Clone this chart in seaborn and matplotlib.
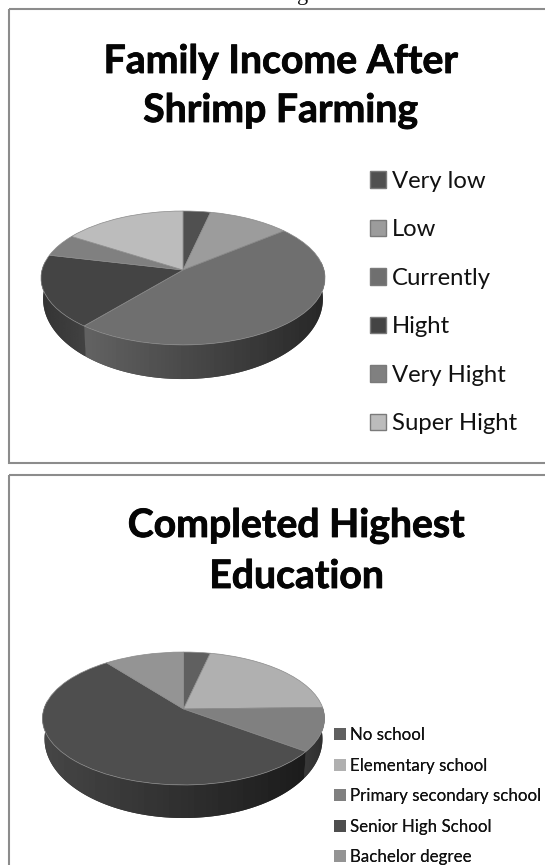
import numpy as np
import seaborn as sns
import matplotlib.pyplot as plt
import matplotlib.patheffects as pe
from matplotlib.patches import Patch, Polygon, Rectangle
from matplotlib.transforms import Transform

income_labels = ["Very low", "Low", "Currently", "Hight", "Very Hight", "Super Hight"]
income_values = [3.5, 10.5, 47.0, 17.7, 5.4, 15.9]
education_labels = ["No school", "Elementary school", "Primary secondary school",
                    "Senior High School", "Bachelor degree"]
education_values = [3.5, 21.1, 10.6, 54.3, 10.5]

income_colors = ["#505050", "#9c9c9c", "#6f6f6f", "#444444", "#808080", "#bcbcbc"]
education_colors = ["#606060", "#b0b0b0", "#808080", "#4e4e4e", "#949494"]
# grey of the pie wall at its left and right end, per slice
income_walls = {2: (98, 40), 3: (52, 66)}
education_walls = {2: (58, 46), 3: (70, 28)}

sns.set_theme(style="white")
plt.rcParams["font.family"] = ["Lato", "DejaVu Sans"]


class Tilt(Transform):
    # unit pie -> pixels, with the far side of the pie shrunk
    input_dims = 2
    output_dims = 2

    def __init__(self, cx, cy, b, a, k):
        super().__init__()
        self.cx, self.cy, self.b, self.a, self.k = cx, cy, b, a, k

    def transform_non_affine(self, values):
        values = np.asarray(values, float)
        w = 1 + self.k * values[:, 1]
        return np.column_stack([self.cx + self.b * values[:, 0] / w,
                                self.cy - self.a * values[:, 1] / w])


def draw_pie(ax, values, colors, walls, cx, cy, b, a, k, low_cy, low_a):
    top = Tilt(cx, cy, b, a, k)
    low = Tilt(cx, low_cy, b * 0.985, low_a, k)
    edges = 90 - 360 * np.concatenate([[0], np.cumsum(values)]) / np.sum(values)
    for i, (left, right) in walls.items():
        t = np.radians(np.linspace(edges[i], edges[i + 1], 300))
        t = t[np.sin(t) < 0.12]
        unit = np.column_stack([np.cos(t), np.sin(t)])
        poly = np.vstack([top.transform_non_affine(unit), low.transform_non_affine(unit)[::-1]])
        grey = (left + right) / 2 / 255
        shape = ax.add_patch(Polygon(poly, fc=(grey, grey, grey), ec="none", zorder=1))
        img = ax.imshow(np.linspace(left, right, 64)[None, :], cmap="gray", vmin=0, vmax=255,
                        aspect="auto", interpolation="bilinear", zorder=1,
                        extent=(poly[:, 0].min(), poly[:, 0].max(), poly[:, 1].max(), poly[:, 1].min()))
        img.set_clip_path(shape)
    wedges, _ = ax.pie(values, colors=sns.color_palette(colors), startangle=90, counterclock=False,
                       frame=True, wedgeprops={"edgecolor": "#8a8a8a", "linewidth": 0.5, "zorder": 2})
    for w in wedges:
        w.set_transform(top + ax.transData)


def draw_legend(ax, labels, colors, x, y, size, spacing, hsize, pad, edge):
    handles = [Patch(facecolor=c, edgecolor=edge or c, linewidth=1.0 if edge else 0, label=l)
               for c, l in zip(colors, labels)]
    leg = ax.legend(handles=handles, loc="upper left", bbox_to_anchor=(x, y), bbox_transform=ax.transData,
                    frameon=False, fontsize=size, labelspacing=spacing, handlelength=hsize, handleheight=hsize,
                    handletextpad=pad, borderpad=0, borderaxespad=0, labelcolor="#111111")
    ax.add_artist(leg)


def title(ax, x, y, s):
    ax.text(x, y, s, fontsize=28.2, fontweight="bold", ha="center", va="baseline", color="#050505",
            path_effects=[pe.withStroke(linewidth=0.6, foreground="#050505")])


fig = plt.figure(figsize=(5.45, 8.65), dpi=100)
ax = fig.add_axes([0, 0, 1, 1])

draw_pie(ax, income_values, income_colors, income_walls, 183, 270, 141, 66, 0.119, 289.5, 78.9)
draw_pie(ax, education_values, education_colors, education_walls, 183.5, 709, 139.6, 65.1, 0.143, 727.7, 77.4)

for bottom, height in [(9, 454), (475, 420)]:
    ax.add_patch(Rectangle((8.5, bottom), 560, height, fc="none", ec="#8c8c8c", lw=1.5, zorder=3))

title(ax, 280.5, 73, "Family Income After")
title(ax, 280.5, 122, "Shrimp Farming")
title(ax, 296, 537, "Completed Highest")
title(ax, 296.5, 588, "Education")
ax.text(303, 0, "g", fontsize=16, family="Liberation Serif", ha="center", va="baseline", color="#111111")

draw_legend(ax, income_labels, income_colors, 370, 171, 17.2, 1.15, 0.68, 0.25, "#7a7a7a")
draw_legend(ax, education_labels, education_colors, 334, 727, 12.2, 0.86, 0.7, 0.24, None)

ax.set_xlim(0, 545)
ax.set_ylim(865, 0)
ax.set_aspect("auto")
ax.axis("off")

plt.savefig("out.png", dpi=100)
